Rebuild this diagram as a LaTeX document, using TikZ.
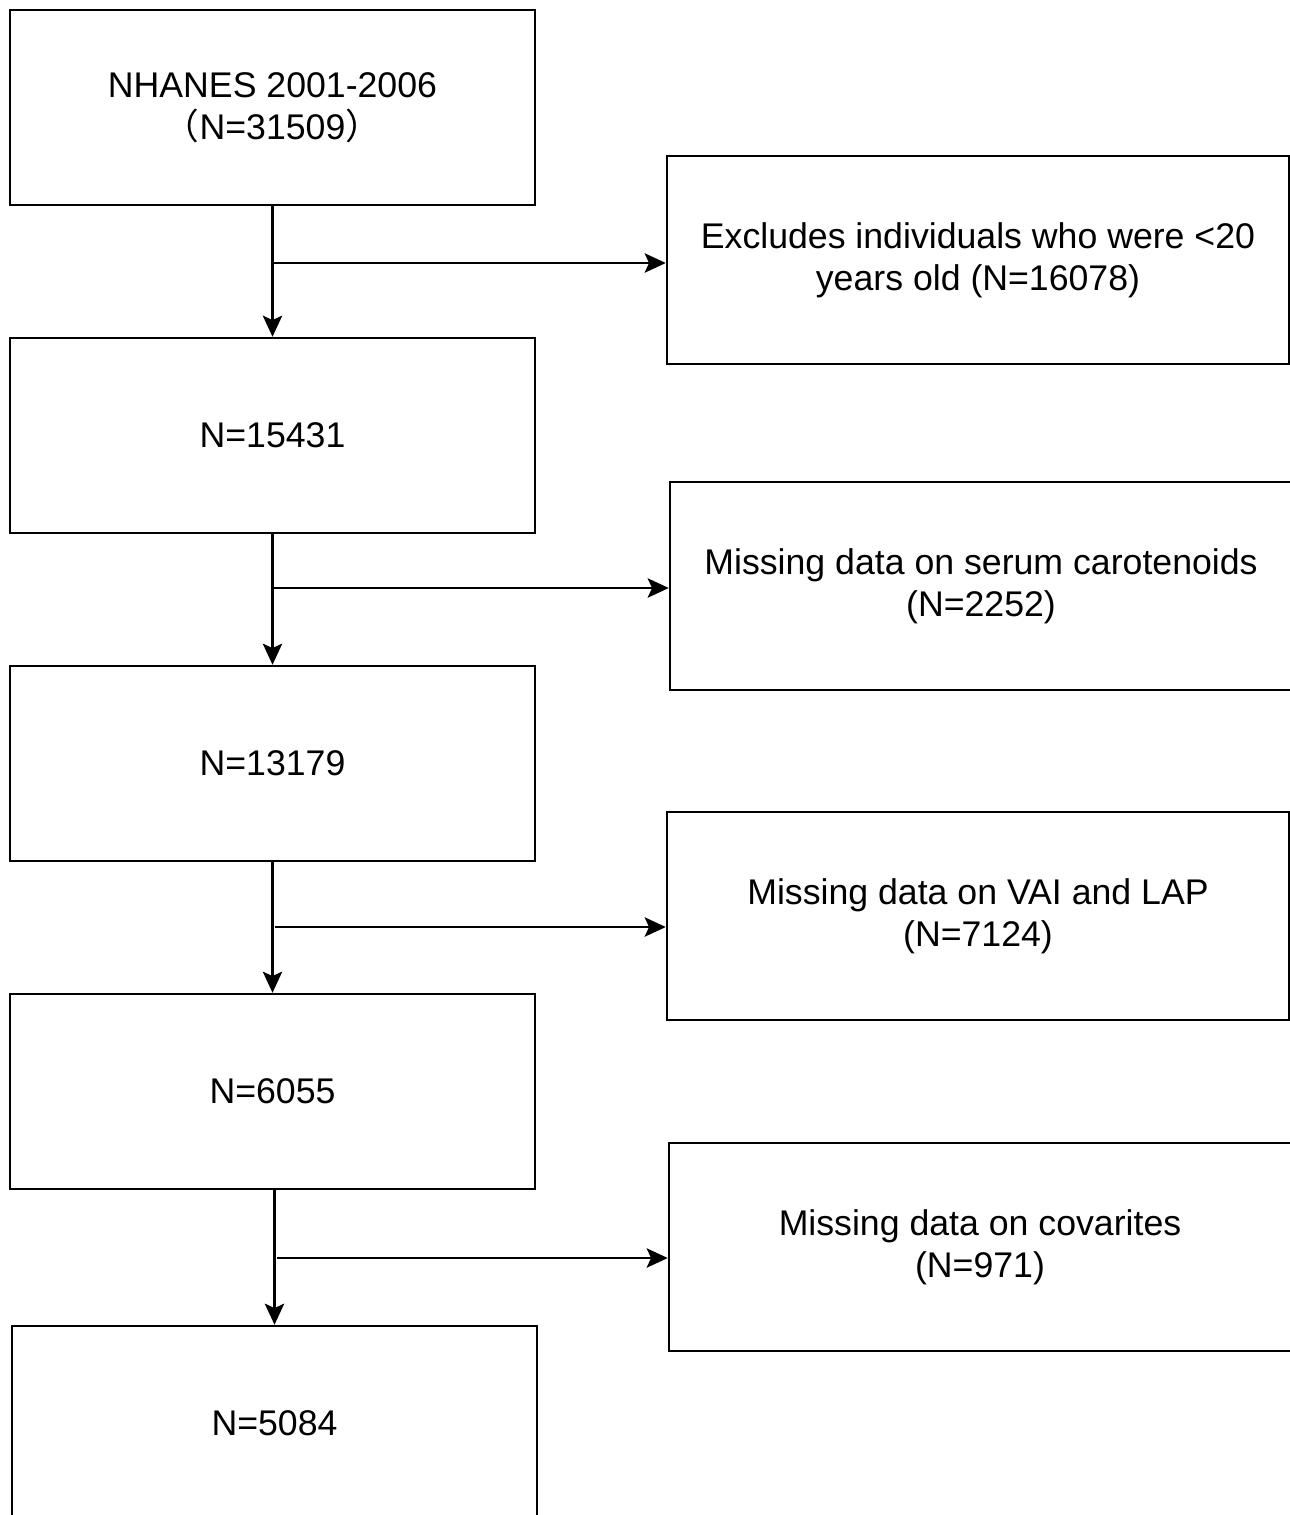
\documentclass[tikz,border=0pt]{standalone}
\usepackage{fontspec}
\setmainfont{Liberation Sans}
\newfontfamily\cjk{Noto Sans CJK SC}
\usetikzlibrary{arrows.meta}

\begin{document}
\begin{tikzpicture}[>={Stealth[length=12pt,width=11pt,inset=2.5pt]}, line width=1.4pt]

\useasboundingbox (0,0) rectangle (25.8,-30.3);

\begin{scope}[rectangle, align=center, font=\fontsize{20.3}{24}\selectfont]
  % main flow
  \node[draw, minimum width=10.5cm, minimum height=3.9cm] (box0) at (5.45,-2.15) {NHANES 2001-2006\\{\cjk（}N=31509{\cjk）}};
  \node[draw, minimum width=10.5cm, minimum height=3.9cm] (box1) at (5.45,-8.71) {N=15431};
  \node[draw, minimum width=10.5cm, minimum height=3.9cm] (box2) at (5.45,-15.27) {N=13179};
  \node[draw, minimum width=10.5cm, minimum height=3.9cm] (box3) at (5.45,-21.83) {N=6055};
  \node[draw, minimum width=10.5cm, minimum height=3.9cm] (box4) at (5.49,-28.47) {N=5084};

  % exclusions
  \node[draw, minimum width=12.44cm, minimum height=4.16cm] (excl1) at (19.56,-5.2) {Excludes individuals who were <20\\years old (N=16078)};
  \node[draw, minimum width=12.44cm, minimum height=4.16cm] (excl2) at (19.62,-11.72) {Missing data on serum carotenoids\\(N=2252)};
  \node[draw, minimum width=12.44cm, minimum height=4.16cm] (excl3) at (19.56,-18.32) {Missing data on VAI and LAP\\(N=7124)};
  \node[draw, minimum width=12.44cm, minimum height=4.16cm] (excl4) at (19.6,-24.94) {Missing data on covarites\\(N=971)};

  \path[->] (box0) edge (box1);
  \path[->] (box1) edge (box2);
  \path[->] (box2) edge (box3);
  \path[->] (box3.south -| box4.north) edge (box4.north);

  \coordinate (b1) at (5.46,-5.26);
  \coordinate (b2) at (5.46,-11.76);
  \coordinate (b3) at (5.5,-18.54);
  \coordinate (b4) at (5.54,-25.16);

  \draw[->] (b1) -- (b1 -| excl1.west);
  \draw[->] (b2) -- (b2 -| excl2.west);
  \draw[->] (b3) -- (b3 -| excl3.west);
  \draw[->] (b4) -- (b4 -| excl4.west);
\end{scope}

\end{tikzpicture}
\end{document}
